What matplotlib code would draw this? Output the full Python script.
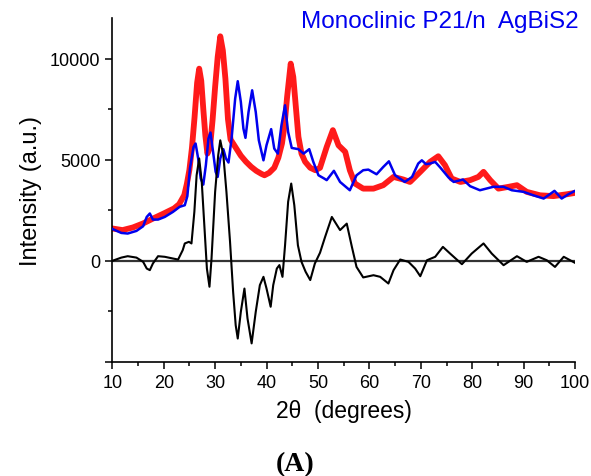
import matplotlib
matplotlib.use("Agg")
import matplotlib.pyplot as plt
from matplotlib.ticker import FixedLocator, FuncFormatter

plt.rcParams['font.family'] = ['Liberation Sans', 'DejaVu Sans']

# Observed (red circles)
obs_x = [10, 12, 14, 16, 18, 20, 22, 23, 24, 24.5, 25, 25.5, 26, 26.5, 26.9, 27.3, 27.7, 28.1, 28.5, 29,
         29.5, 30, 30.5, 31, 31.5, 32, 32.5, 33, 34, 35, 36, 37, 38, 39, 39.6, 40.5, 41.5, 42.3, 43, 43.5,
         44, 44.7, 45.2, 45.7, 46.2, 46.8, 47.5, 48.5, 49.5, 50.4, 51.7, 52.9, 54, 55.3, 56.2, 57.2, 58.8,
         60.8, 62.7, 64.7, 66.6, 67.9, 69.9, 71.8, 73.4, 74.7, 76, 77.7, 79.6, 81.2, 82.2, 83.5, 85.1,
         87.1, 88.7, 90.6, 93.2, 95.8, 98.4, 100]
obs_y = [1600, 1520, 1650, 1850, 2100, 2340, 2590, 2800, 3250, 3800, 4500, 5600, 7100, 8800, 9500, 8900,
         7500, 6200, 5300, 5600, 6950, 8600, 10080, 11100, 10400, 9000, 7000, 6000, 5600, 5200, 4900,
         4650, 4450, 4300, 4230, 4350, 4600, 5100, 5800, 6700, 8100, 9750, 9090, 7610, 6130, 5300, 4900,
         4600, 4480, 4600, 5630, 6460, 5710, 5390, 4480, 3820, 3570, 3570, 3740, 4150, 4020, 3900, 4400,
         4890, 5170, 4730, 4070, 3900, 3990, 4150, 4400, 3990, 3570, 3660, 3740, 3410, 3240, 3200, 3290,
         3360]

# Calculated (blue line)
calc_x = [10, 11.75, 13, 14.7, 16, 16.7, 17.3, 17.9, 18.9, 20.2, 21.8, 23.1, 24.1, 24.6, 25.1, 25.8, 26.2,
          26.7, 27.2, 27.7, 28.2, 28.7, 29.1, 29.6, 30.1, 30.5, 31, 31.6, 32.1, 32.6, 33.2, 33.9, 34.4, 35,
          35.5, 35.9, 36.5, 37.2, 37.9, 38.5, 39.4, 40, 40.9, 41.5, 42.2, 42.9, 43.6, 44.2, 44.9, 46.2,
          47.2, 48.3, 49.1, 50.1, 51.2, 51.7, 53.1, 54.3, 56.2, 57.5, 58.8, 59.8, 61.4, 62.7, 63.8, 65,
          66.9, 68.3, 69.5, 70.2, 71, 71.8, 72.8, 73.8, 75.4, 76.4, 78.2, 79.6, 81.5, 84.1, 86.1, 87.7, 90,
          91.9, 93.9, 94.8, 96, 97.4, 98.7, 100]
calc_y = [1580, 1380, 1350, 1480, 1710, 2170, 2340, 2040, 2040, 2170, 2420, 2670, 2750, 3200, 4560, 5630,
          5800, 5060, 4070, 3770, 4730, 6040, 6340, 5390, 4400, 4150, 5060, 5520, 5060, 4860, 6040, 8020,
          8880, 7860, 6540, 6080, 7360, 8430, 7360, 5960, 4970, 5720, 6510, 5550, 5300, 6700, 7690, 6370,
          5580, 5520, 5300, 5520, 4890, 4230, 4070, 3990, 4450, 3900, 3490, 4230, 4480, 4510, 4280, 4640,
          4920, 4230, 3900, 4150, 4810, 4970, 4780, 4810, 4890, 4610, 4120, 3900, 4020, 3690, 3490, 3660,
          3660, 3490, 3410, 3240, 3080, 3240, 3460, 3080, 3290, 3460]

# Difference (black line)
diff_x = [10, 11.75, 13, 14.7, 16, 16.7, 17.3, 17.9, 18.9, 20.2, 21.8, 22.8, 23.7, 24.1, 24.9, 25.4, 25.96,
          26.4, 26.9, 27.4, 27.9, 28.4, 28.9, 29.3, 30, 30.6, 31, 31.6, 32.2, 32.9, 33.5, 34, 34.4, 35,
          35.7, 36.3, 37.1, 37.9, 38.7, 39.4, 40, 40.8, 41.3, 42, 42.5, 43.1, 43.6, 44.2, 44.8, 45.4, 46.1,
          46.8, 47.6, 48.5, 49.4, 50.4, 51.4, 52.7, 54.3, 55.6, 56.6, 57.5, 58.8, 60.8, 62.1, 63.7, 64.7,
          66, 67.6, 68.9, 69.9, 71.2, 72.8, 74.3, 75.7, 78, 79.9, 82.2, 83.8, 86.1, 88.7, 90.6, 92.9, 94.5,
          96.1, 97.8, 100]
diff_y = [0, 160, 230, 160, -50, -380, -460, -130, 230, 200, 115, 65, 530, 860, 940, 860, 2420, 4230, 5060,
          3900, 1760, -380, -1280, 115, 3410, 5220, 5960, 5220, 3410, 940, -1530, -3180, -3840, -2520,
          -1370, -2850, -4080, -2520, -1200, -790, -1370, -2270, -1200, -380, -210, -790, 770, 2920, 3820,
          2750, 770, -50, -540, -950, -130, 400, 1190, 2170, 1520, 1840, 690, -300, -820, -710, -790,
          -1120, -460, 65, -50, -380, -760, 30, 200, 690, 360, -165, 360, 860, 360, -215, 230, -50, 200,
          30, -300, 200, -100]

x_major = [10, 20, 30, 40, 50, 60, 70, 80, 90, 100]
y_major = [-5000, 0, 5000, 10000]

fig = plt.figure(figsize=(5.91, 4.77), dpi=100)
ax = fig.add_axes([0.19, 0.239, 0.783, 0.721])

ax.axhline(0, color='#333333', lw=1.6, zorder=1)
ax.plot(obs_x, obs_y, color='#ff1a1a', lw=4.2, zorder=2, solid_capstyle='round', solid_joinstyle='round')
ax.plot(calc_x, calc_y, color='#0000ee', lw=1.8, zorder=3)
ax.plot(diff_x, diff_y, color='black', lw=1.5, zorder=4)

ax.set_xlim(10, 100)
ax.set_ylim(-5000, 12000)
ax.xaxis.set_major_locator(FixedLocator(x_major))
ax.xaxis.set_minor_locator(FixedLocator([15, 25, 35, 45, 55, 65, 75, 85, 95]))
ax.yaxis.set_major_locator(FixedLocator(y_major))
ax.yaxis.set_minor_locator(FixedLocator([-2500, 2500, 7500]))
ax.yaxis.set_major_formatter(FuncFormatter(lambda v, p: '' if v < 0 else f'{int(v)}'))

for s in ['top', 'right']:
    ax.spines[s].set_visible(False)
for s in ['left', 'bottom']:
    ax.spines[s].set_linewidth(1.2)

ax.tick_params(axis='both', which='major', direction='out', length=5, width=1.1, labelsize=13)
ax.tick_params(axis='both', which='minor', direction='out', length=3, width=1.1)

ax.set_xlabel('2θ  (degrees)', fontsize=16.5, labelpad=6)
ax.set_ylabel('Intensity (a.u.)', fontsize=17, labelpad=6)

fig.text(0.745, 0.953, 'Monoclinic P21/n  AgBiS2', color='#0000ee', fontsize=17.5,
         ha='center', va='center')
fig.text(0.5, 0.027, '(A)', fontsize=20, fontweight='bold', family='Liberation Serif',
         ha='center', va='center')

fig.savefig('out.png', dpi=100)
